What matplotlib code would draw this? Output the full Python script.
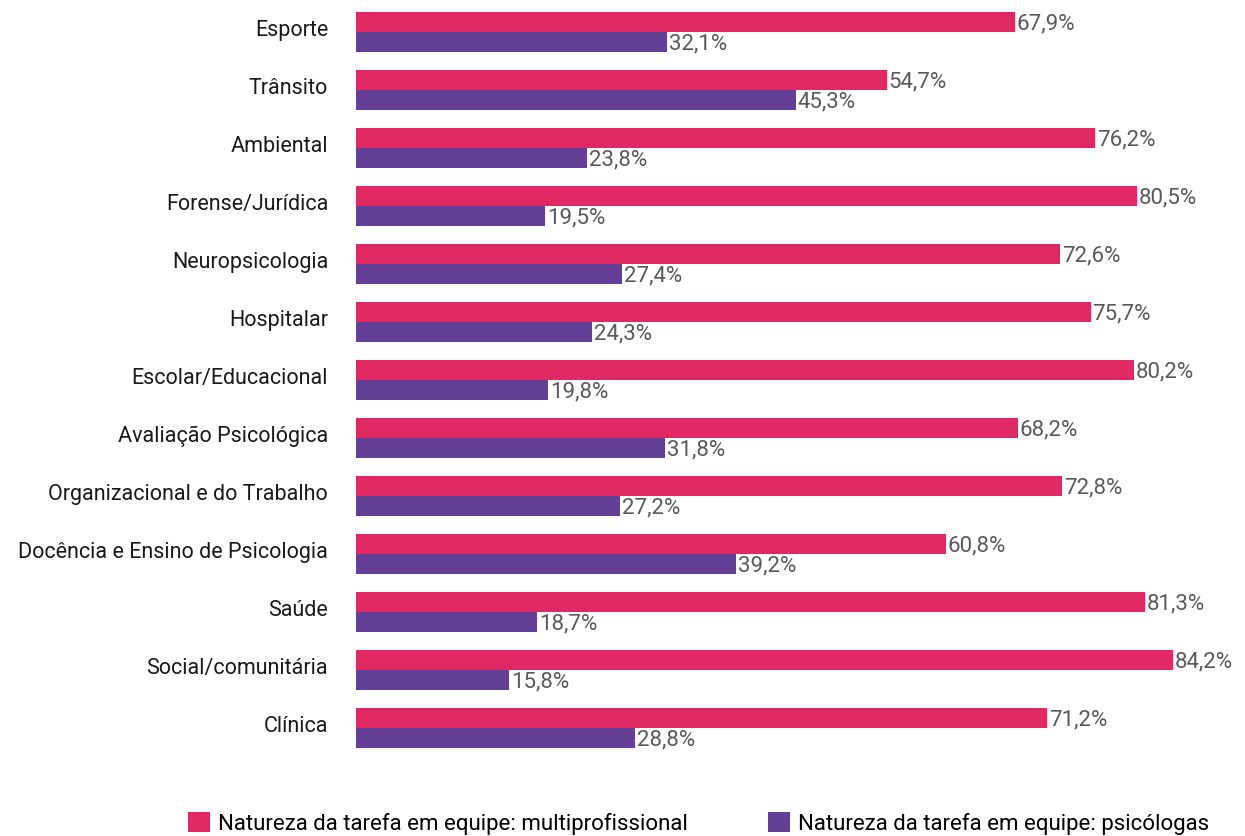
import matplotlib
matplotlib.use('Agg')
import matplotlib.pyplot as plt
import matplotlib.transforms as mtransforms
import numpy as np

# Dados
categorias = ['Esporte', 'Trânsito', 'Ambiental', 'Forense/Jurídica', 'Neuropsicologia',
              'Hospitalar', 'Escolar/Educacional', 'Avaliação Psicológica',
              'Organizacional e do Trabalho', 'Docência e Ensino de Psicologia',
              'Saúde', 'Social/comunitária', 'Clínica']
multiprofissional = [67.9, 54.7, 76.2, 80.5, 72.6, 75.7, 80.2, 68.2, 72.8, 60.8, 81.3, 84.2, 71.2]
psicologas = [32.1, 45.3, 23.8, 19.5, 27.4, 24.3, 19.8, 31.8, 27.2, 39.2, 18.7, 15.8, 28.8]
legendas = ['Natureza da tarefa em equipe: multiprofissional',
            'Natureza da tarefa em equipe: psicólogas']

plt.rcParams['font.family'] = ['Roboto', 'DejaVu Sans']

cor1 = '#E02862'
cor2 = '#643F96'

fig = plt.figure(figsize=(12.45, 8.36), dpi=100)
ax = fig.add_axes([356 / 1245, 1 - 760 / 836, 884 / 1245, 760 / 836])

y = np.arange(len(categorias))
h = 0.345
b1 = ax.barh(y - h / 2, multiprofissional, height=h, color=cor1, label=legendas[0])
b2 = ax.barh(y + h / 2, psicologas, height=h, color=cor2, label=legendas[1])

for bars, vals in [(b1, multiprofissional), (b2, psicologas)]:
    for bar, v in zip(bars, vals):
        ax.text(bar.get_width() + 0.2, bar.get_y() + bar.get_height() / 2 + 0.03,
                f'{v:.1f}%'.replace('.', ','), va='center', ha='left',
                fontsize=16, color='#595959')

ax.set_xlim(0, 91.1)
ax.set_ylim(12.55, -0.552)
ax.set_yticks(y)
ax.set_yticklabels(categorias, fontsize=15.5, color='#1a1a1a')
ax.tick_params(axis='y', length=0, pad=20)
# rótulos um pouco acima do centro do grupo
off = mtransforms.ScaledTranslation(0, 0.04, fig.dpi_scale_trans)
for lbl in ax.get_yticklabels():
    lbl.set_transform(lbl.get_transform() + off)
ax.set_xticks([])
for s in ax.spines.values():
    s.set_visible(False)

fig.legend(handles=[b1, b2], loc='upper left', bbox_to_anchor=(188 / 1245, 1 - 812 / 836),
           ncol=2, frameon=False, fontsize=16, handlelength=1.0, handleheight=1.0,
           handletextpad=0.35, columnspacing=3.6, borderaxespad=0, borderpad=0)

fig.savefig('out.png', dpi=100)
